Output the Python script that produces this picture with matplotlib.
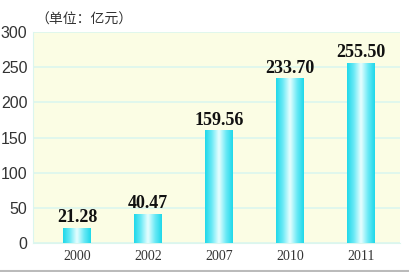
import numpy as np
import matplotlib
matplotlib.use('Agg')
from matplotlib import pyplot as plt
from matplotlib.colors import LinearSegmentedColormap

years = ['2000', '2002', '2007', '2010', '2011']
values = [21.28, 40.47, 159.56, 233.70, 255.50]
yticks = [0, 50, 100, 150, 200, 250, 300]

fig = plt.figure(figsize=(4.1, 2.72), dpi=100)
fig.patch.set_facecolor('white')
ax = fig.add_axes([33 / 410, 29 / 272, 367 / 410, 211 / 272])
ax.set_facecolor('#fbfde4')

# cyan -> white -> cyan gradient for each bar
cmap = LinearSegmentedColormap.from_list(
    'bar', ['#1fd8ea', '#6eeaf6', '#eaffff', '#6eeaf6', '#1fd8ea'])
grad = np.linspace(0, 1, 64).reshape(1, -1)
width = 0.39
x = np.arange(len(years))
for i, v in enumerate(values):
    ax.imshow(grad, cmap=cmap, aspect='auto', interpolation='bicubic',
              extent=(x[i] - width / 2, x[i] + width / 2, 0, v), zorder=3)
    ax.text(x[i], v + 3, '%.2f' % v, ha='center', va='bottom',
            fontsize=13, fontweight='bold', family='Liberation Serif',
            color='#111111', zorder=4)

ax.set_xlim(-0.62, 4.55)
ax.set_ylim(0, 300)
ax.set_yticks(yticks)
ax.set_xticks(x)
ax.set_xticklabels(years, family='Liberation Serif', fontsize=10, color='#333333')
for lab in ax.get_yticklabels():
    lab.set_fontsize(11.5)
    lab.set_family('Liberation Sans')
    lab.set_color('#333333')
ax.tick_params(length=0)
ax.tick_params(axis='y', pad=4)
ax.tick_params(axis='x', pad=5)
ax.yaxis.grid(True, color='#dbf6ee', linewidth=1.2, zorder=1)
ax.set_axisbelow(True)
for s in ax.spines.values():
    s.set_visible(False)
ax.spines['left'].set_visible(True)
ax.spines['left'].set_color('#dbf6ee')
ax.spines['bottom'].set_visible(True)
ax.spines['bottom'].set_color('#dbf6ee')

fig.text(35 / 410, 1 - 20 / 272, '（单位：亿元）', fontsize=10,
         family=['Noto Sans CJK SC', 'DejaVu Sans'], color='#333333',
         va='center', ha='left')

# thin grey frame line along the bottom
fig.add_artist(plt.Line2D([0, 1], [1.5 / 272, 1.5 / 272], color='#bbbbbb', linewidth=1.5))

fig.savefig('out.png', dpi=100, facecolor='white')
